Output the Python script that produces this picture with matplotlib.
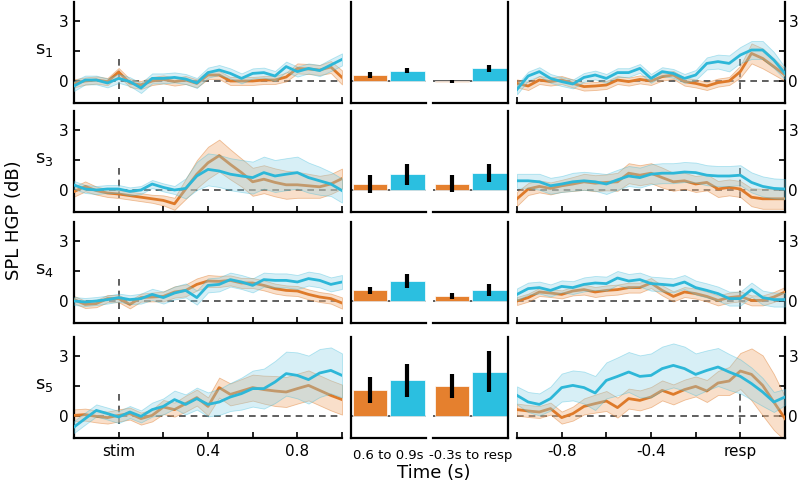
import numpy as np
import matplotlib
matplotlib.use("Agg")
import matplotlib.pyplot as plt

# time grids (s)
t_stim = [-0.2, -0.15, -0.1, -0.05, 0.0, 0.05, 0.1, 0.15, 0.2, 0.25, 0.3, 0.35, 0.4,
          0.45, 0.5, 0.55, 0.6, 0.65, 0.7, 0.75, 0.8, 0.85, 0.9, 0.95, 1.0]
t_resp = [-1.0, -0.95, -0.9, -0.85, -0.8, -0.75, -0.7, -0.65, -0.6, -0.55, -0.5, -0.45, -0.4,
          -0.35, -0.3, -0.25, -0.2, -0.15, -0.1, -0.05, 0.0, 0.05, 0.1, 0.15, 0.2]

subjects = ["s$_1$", "s$_3$", "s$_4$", "s$_5$"]

# stimulus-locked means / band half-widths
s1_stim_orange = [-0.12, 0.0, 0.05, -0.03, 0.45, -0.1, -0.2, 0.0, 0.08, -0.03, 0.05, -0.12, 0.3,
                  0.3, 0.0, 0.0, 0.0, 0.05, 0.05, 0.2, 0.63, 0.6, 0.55, 0.7, 0.18]
s1_stim_cyan = [-0.25, 0.05, 0.05, -0.1, 0.13, -0.03, -0.35, 0.13, 0.13, 0.18, 0.1, -0.1, 0.42,
                0.55, 0.38, 0.13, 0.38, 0.42, 0.25, 0.72, 0.47, 0.63, 0.52, 0.8, 1.08]
s1_stim_orange_err = [0.2, 0.18, 0.18, 0.18, 0.2, 0.2, 0.2, 0.2, 0.2, 0.2, 0.2, 0.2, 0.2,
                      0.2, 0.2, 0.2, 0.2, 0.2, 0.2, 0.22, 0.25, 0.25, 0.25, 0.3, 0.35]
s1_stim_cyan_err = [0.25, 0.22, 0.22, 0.22, 0.22, 0.22, 0.25, 0.25, 0.25, 0.25, 0.25, 0.25, 0.25,
                    0.25, 0.25, 0.25, 0.25, 0.25, 0.25, 0.25, 0.25, 0.25, 0.28, 0.3, 0.3]

s3_stim_orange = [-0.08, 0.18, -0.03, -0.15, -0.2, -0.28, -0.36, -0.44, -0.52, -0.69, 0.05, 0.79, 1.36,
                  1.72, 1.28, 0.87, 0.41, 0.54, 0.38, 0.26, 0.26, 0.21, 0.16, 0.3, 0.57]
s3_stim_cyan = [0.25, 0.05, 0.0, 0.05, 0.05, -0.07, 0.0, 0.3, 0.13, 0.0, 0.08, 0.7, 1.03,
                0.95, 0.79, 0.7, 0.62, 0.87, 0.7, 0.79, 0.87, 0.62, 0.46, 0.3, -0.03]
s3_stim_orange_err = [0.25, 0.25, 0.2, 0.2, 0.2, 0.2, 0.2, 0.2, 0.25, 0.3, 0.5, 0.7, 0.8,
                      0.8, 0.75, 0.7, 0.7, 0.7, 0.7, 0.7, 0.65, 0.6, 0.55, 0.5, 0.5]
s3_stim_cyan_err = [0.2, 0.2, 0.2, 0.2, 0.2, 0.2, 0.2, 0.2, 0.2, 0.2, 0.5, 0.7, 0.8,
                    0.8, 0.8, 0.8, 0.8, 0.8, 0.8, 0.8, 0.8, 0.75, 0.7, 0.6, 0.6]

s4_stim_orange = [0.07, -0.17, -0.13, 0.12, 0.12, -0.17, 0.17, 0.2, 0.23, 0.45, 0.53, 0.83, 1.0,
                  0.98, 1.03, 0.9, 0.9, 0.78, 0.62, 0.53, 0.5, 0.33, 0.2, 0.12, -0.1]
s4_stim_cyan = [0.0, -0.05, 0.0, 0.07, 0.17, 0.07, 0.12, 0.33, 0.17, 0.4, 0.53, 0.17, 0.78,
                0.83, 1.07, 0.95, 0.78, 1.07, 1.03, 1.03, 0.95, 1.12, 1.03, 0.83, 0.95]
s4_stim_orange_err = [0.18, 0.18, 0.18, 0.18, 0.18, 0.2, 0.2, 0.22, 0.25, 0.28, 0.3, 0.3, 0.3,
                      0.28, 0.25, 0.25, 0.25, 0.25, 0.25, 0.25, 0.25, 0.25, 0.25, 0.25, 0.28]
s4_stim_cyan_err = [0.2, 0.2, 0.2, 0.2, 0.2, 0.22, 0.25, 0.28, 0.3, 0.32, 0.35, 0.35, 0.35,
                    0.35, 0.35, 0.35, 0.35, 0.35, 0.35, 0.35, 0.35, 0.35, 0.35, 0.35, 0.35]

s5_stim_orange = [0.03, 0.07, -0.02, -0.08, 0.03, 0.12, -0.13, 0.03, 0.45, 0.32, 0.62, 0.92, 0.48,
                  1.42, 1.08, 1.25, 1.42, 1.32, 1.25, 1.2, 1.37, 1.53, 1.28, 1.03, 0.82]
s5_stim_cyan = [-0.55, -0.13, 0.28, 0.12, -0.05, 0.2, -0.02, 0.32, 0.48, 0.82, 0.58, 0.87, 0.58,
                0.7, 0.95, 1.12, 1.37, 1.37, 1.7, 2.12, 2.03, 1.82, 2.15, 2.28, 2.03]
s5_stim_orange_err = [0.3, 0.3, 0.3, 0.3, 0.3, 0.3, 0.3, 0.3, 0.35, 0.35, 0.4, 0.4, 0.45,
                      0.5, 0.55, 0.6, 0.65, 0.7, 0.75, 0.75, 0.75, 0.75, 0.75, 0.75, 0.75]
s5_stim_cyan_err = [0.3, 0.3, 0.3, 0.3, 0.3, 0.3, 0.3, 0.35, 0.4, 0.45, 0.5, 0.55, 0.6,
                    0.65, 0.7, 0.8, 0.9, 1.0, 1.05, 1.1, 1.15, 1.2, 1.2, 1.15, 1.1]

# response-locked means / band half-widths
s1_resp_orange = [-0.12, -0.25, 0.05, -0.03, 0.05, -0.12, -0.28, -0.25, -0.2, 0.05, -0.03, 0.08, 0.0,
                  0.22, 0.3, -0.03, -0.12, -0.25, -0.08, 0.0, 0.47, 1.38, 1.13, 0.72, 0.3]
s1_resp_cyan = [-0.42, 0.25, 0.47, 0.13, -0.03, -0.15, 0.18, 0.3, 0.13, 0.42, 0.42, 0.63, 0.13,
                0.47, 0.38, 0.13, 0.3, 0.88, 0.97, 0.88, 1.3, 1.55, 1.55, 1.05, 0.38]
s1_resp_orange_err = [0.2, 0.2, 0.2, 0.2, 0.2, 0.2, 0.2, 0.2, 0.2, 0.2, 0.2, 0.2, 0.2,
                      0.2, 0.2, 0.2, 0.2, 0.2, 0.2, 0.2, 0.3, 0.5, 0.5, 0.4, 0.3]
s1_resp_cyan_err = [0.25, 0.22, 0.22, 0.22, 0.22, 0.22, 0.22, 0.22, 0.22, 0.22, 0.22, 0.22, 0.22,
                    0.22, 0.22, 0.22, 0.25, 0.3, 0.35, 0.4, 0.4, 0.45, 0.45, 0.4, 0.3]

s3_resp_orange = [-0.44, 0.05, 0.18, 0.08, 0.21, 0.3, 0.41, 0.34, 0.38, 0.41, 0.84, 0.74, 0.84,
                  0.62, 0.41, 0.46, 0.3, 0.38, 0.05, 0.13, 0.05, -0.36, -0.44, -0.44, -0.44]
s3_resp_cyan = [0.46, 0.46, 0.41, 0.21, 0.3, 0.41, 0.46, 0.41, 0.3, 0.51, 0.7, 0.62, 0.79,
                0.84, 0.84, 0.9, 0.87, 0.74, 0.7, 0.7, 0.74, 0.38, 0.18, 0.08, 0.05]
s3_resp_orange_err = [0.35, 0.3, 0.3, 0.3, 0.3, 0.35, 0.4, 0.4, 0.4, 0.45, 0.5, 0.5, 0.5,
                      0.5, 0.45, 0.4, 0.4, 0.4, 0.4, 0.4, 0.4, 0.45, 0.5, 0.5, 0.5]
s3_resp_cyan_err = [0.35, 0.35, 0.4, 0.4, 0.4, 0.45, 0.45, 0.45, 0.5, 0.5, 0.5, 0.5, 0.5,
                    0.5, 0.5, 0.5, 0.5, 0.5, 0.5, 0.5, 0.5, 0.5, 0.5, 0.5, 0.5]

s4_resp_orange = [0.0, 0.17, 0.45, 0.4, 0.33, 0.5, 0.57, 0.45, 0.53, 0.57, 0.67, 0.67, 0.9,
                  0.53, 0.23, 0.45, 0.37, 0.23, 0.03, 0.17, 0.23, 0.03, 0.03, 0.2, 0.45]
s4_resp_cyan = [0.33, 0.62, 0.67, 0.53, 0.73, 0.67, 0.83, 0.9, 0.87, 1.15, 1.0, 1.07, 0.87,
                0.83, 0.78, 0.95, 0.67, 0.53, 0.37, 0.12, 0.12, 0.57, 0.17, 0.07, 0.07]
s4_resp_orange_err = [0.2, 0.2, 0.2, 0.2, 0.2, 0.22, 0.25, 0.25, 0.25, 0.25, 0.25, 0.25, 0.25,
                      0.25, 0.25, 0.25, 0.25, 0.25, 0.25, 0.25, 0.25, 0.25, 0.25, 0.25, 0.25]
s4_resp_cyan_err = [0.3, 0.3, 0.3, 0.3, 0.3, 0.32, 0.35, 0.35, 0.35, 0.35, 0.35, 0.35, 0.35,
                    0.35, 0.35, 0.35, 0.35, 0.35, 0.35, 0.35, 0.35, 0.35, 0.35, 0.35, 0.35]

s5_resp_orange = [0.32, 0.25, 0.2, 0.37, -0.08, 0.12, 0.48, 0.62, 0.75, 0.42, 0.87, 0.78, 0.95,
                  1.28, 1.08, 1.32, 1.48, 1.25, 1.65, 1.75, 2.25, 2.08, 1.53, 0.7, -0.13]
s5_resp_cyan = [1.03, 0.7, 0.58, 0.87, 1.42, 1.53, 1.42, 1.15, 1.78, 1.98, 2.2, 1.98, 2.03,
                2.37, 2.53, 2.37, 2.08, 2.28, 2.45, 2.2, 1.98, 1.62, 1.2, 0.7, 0.95]
s5_resp_orange_err = [0.3, 0.3, 0.3, 0.3, 0.3, 0.35, 0.4, 0.45, 0.5, 0.5, 0.5, 0.5, 0.5,
                      0.5, 0.5, 0.5, 0.5, 0.55, 0.6, 0.7, 0.9, 1.3, 1.5, 1.4, 1.1]
s5_resp_cyan_err = [0.45, 0.5, 0.55, 0.6, 0.7, 0.75, 0.8, 0.85, 0.9, 0.95, 1.0, 1.05, 1.1,
                    1.1, 1.1, 1.1, 1.05, 1.0, 0.95, 0.9, 0.85, 0.8, 0.7, 0.5, 0.4]

# window averages: [orange, cyan] means and errors
bar_labels = ["0.6 to 0.9s", "-0.3s to resp"]
win1_means = [[0.3, 0.52], [0.3, 0.78], [0.53, 1.0], [1.3, 1.78]]
win1_errs = [[0.14, 0.13], [0.47, 0.52], [0.17, 0.37], [0.64, 0.83]]
win2_means = [[-0.03, 0.63], [0.32, 0.83], [0.27, 0.55], [1.5, 2.22]]
win2_errs = [[0.08, 0.18], [0.43, 0.45], [0.15, 0.31], [0.62, 1.04]]

stim_orange = [s1_stim_orange, s3_stim_orange, s4_stim_orange, s5_stim_orange]
stim_cyan = [s1_stim_cyan, s3_stim_cyan, s4_stim_cyan, s5_stim_cyan]
stim_orange_err = [s1_stim_orange_err, s3_stim_orange_err, s4_stim_orange_err, s5_stim_orange_err]
stim_cyan_err = [s1_stim_cyan_err, s3_stim_cyan_err, s4_stim_cyan_err, s5_stim_cyan_err]
resp_orange = [s1_resp_orange, s3_resp_orange, s4_resp_orange, s5_resp_orange]
resp_cyan = [s1_resp_cyan, s3_resp_cyan, s4_resp_cyan, s5_resp_cyan]
resp_orange_err = [s1_resp_orange_err, s3_resp_orange_err, s4_resp_orange_err, s5_resp_orange_err]
resp_cyan_err = [s1_resp_cyan_err, s3_resp_cyan_err, s4_resp_cyan_err, s5_resp_cyan_err]

ORANGE = "#de7a2a"
ORANGE_FILL = "#f2b98a"
CYAN = "#2db7d8"
CYAN_FILL = "#8fd3e8"
BAR_ORANGE = "#e5802e"
BAR_CYAN = "#2bbfe0"
DASH = "#444444"

YLIM = (-1.1, 3.95)
W, H = 800.0, 482.0
row_tops = [2, 111, 222, 337]
row_h = 101
cols = {"stim": (74, 268), "bar1": (351, 75), "bar2": (433, 75), "resp": (517, 268)}


def rect(col, i):
    x, w = cols[col]
    top = row_tops[i]
    return [x / W, 1 - (top + row_h) / H, w / W, row_h / H]


def trace_panel(ax, t, mo, mc, eo, ec):
    t = np.array(t)
    mo, mc, eo, ec = map(np.array, (mo, mc, eo, ec))
    ax.axhline(0, color=DASH, lw=1.2, ls=(0, (4, 3)), zorder=1)
    ax.plot([0, 0], [-0.4, 1.2], color=DASH, lw=1.2, ls=(0, (4, 3)), zorder=1)
    ax.fill_between(t, mo - eo, mo + eo, color=ORANGE_FILL, alpha=0.45, lw=0.6,
                    edgecolor=ORANGE, zorder=2)
    ax.plot(t, mo, color=ORANGE, lw=2.0, zorder=3, solid_joinstyle="round")
    ax.fill_between(t, mc - ec, mc + ec, color=CYAN_FILL, alpha=0.35, lw=0.6,
                    edgecolor=CYAN, zorder=4)
    ax.plot(t, mc, color=CYAN, lw=2.0, zorder=5, solid_joinstyle="round")
    ax.set_ylim(*YLIM)
    ax.set_yticks([0, 1.5, 3])
    ax.set_yticklabels(["0", "", "3"])
    ax.spines["top"].set_visible(False)
    ax.tick_params(direction="in", length=4, width=1.2, labelsize=11, pad=4)
    for s in ax.spines.values():
        s.set_linewidth(1.6)


def bar_panel(ax, means, errs, side, label, show_label):
    ax.axhline(0, color=DASH, lw=1.2, zorder=1)
    ax.bar([0, 1], means, width=0.92, color=[BAR_ORANGE, BAR_CYAN],
           edgecolor="white", lw=0.5, zorder=2)
    ax.errorbar([0, 1], means, yerr=errs, fmt="none", ecolor="black",
                elinewidth=3, capsize=0, zorder=3)
    ax.set_xlim(-0.5, 1.5)
    ax.set_ylim(*YLIM)
    ax.set_yticks([])
    ax.spines["top"].set_visible(False)
    other = "right" if side == "left" else "left"
    ax.spines[other].set_visible(False)
    for s in ax.spines.values():
        s.set_linewidth(1.6)
    ax.set_xticks([0.5])
    ax.set_xticklabels([label if show_label else ""])
    ax.tick_params(axis="x", length=0, labelsize=9.5, pad=8)


fig = plt.figure(figsize=(8, 4.82), dpi=100)

for i in range(4):
    last = i == 3
    ax = fig.add_axes(rect("stim", i))
    trace_panel(ax, t_stim, stim_orange[i], stim_cyan[i], stim_orange_err[i], stim_cyan_err[i])
    ax.set_xlim(-0.2, 1.0)
    ax.set_xticks([-0.2, 0.0, 0.2, 0.4, 0.6, 0.8, 1.0])
    ax.set_xticklabels(["", "stim", "", "0.4", "", "0.8", ""] if last else [""] * 7)
    ax.spines["right"].set_visible(False)
    ax.text(-0.11, 0.52, subjects[i], transform=ax.transAxes, fontsize=13,
            ha="center", va="center")

    ax = fig.add_axes(rect("bar1", i))
    bar_panel(ax, win1_means[i], win1_errs[i], "left", bar_labels[0], last)
    ax = fig.add_axes(rect("bar2", i))
    bar_panel(ax, win2_means[i], win2_errs[i], "right", bar_labels[1], last)

    ax = fig.add_axes(rect("resp", i))
    trace_panel(ax, t_resp, resp_orange[i], resp_cyan[i], resp_orange_err[i], resp_cyan_err[i])
    ax.set_xlim(-1.0, 0.2)
    ax.set_xticks([-1.0, -0.8, -0.6, -0.4, -0.2, 0.0, 0.2])
    ax.set_xticklabels(["", "-0.8", "", "-0.4", "", "resp", ""] if last else [""] * 7)
    ax.spines["left"].set_visible(False)
    ax.yaxis.tick_right()
    ax.tick_params(axis="y", pad=2.5)

fig.text(0.018, 0.544, "SPL HGP (dB)", rotation=90, fontsize=13, ha="center", va="center")
fig.text(0.5425, 0.019, "Time (s)", fontsize=13, ha="center", va="center")

fig.savefig("out.png", dpi=100)
